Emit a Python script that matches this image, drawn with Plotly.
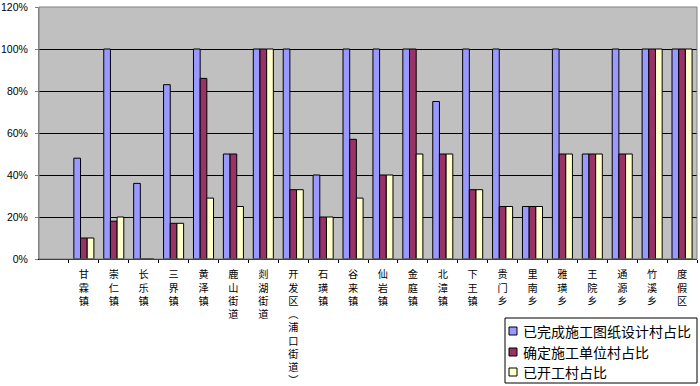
import plotly.graph_objects as go

categories = ["甘霖镇", "崇仁镇", "长乐镇", "三界镇", "黄泽镇", "鹿山街道", "剡湖街道",
              "开发区︵浦口街道︶", "石璜镇", "谷来镇", "仙岩镇", "金庭镇", "北漳镇", "下王镇",
              "贵门乡", "里南乡", "雅璜乡", "王院乡", "通源乡", "竹溪乡", "度假区"]

design_done = [48, 100, 36, 83, 100, 50, 100, 100, 40, 100, 100, 100, 75, 100,
               100, 25, 100, 50, 100, 100, 100]
builder_set = [10, 18, 0, 17, 86, 50, 100, 33, 20, 57, 40, 100, 50, 33,
               25, 25, 50, 50, 50, 100, 100]
started = [10, 20, 0, 17, 29, 25, 100, 33, 20, 29, 40, 50, 50, 33,
           25, 25, 50, 50, 50, 100, 100]

series_names = ["已完成施工图纸设计村占比", "确定施工单位村占比", "已开工村占比"]
colors = ["#9999FF", "#993366", "#FFFFCC"]
y_ticks = [0, 20, 40, 60, 80, 100, 120]

ticktext = ["<br>".join(list(c)) for c in categories]

fig = go.Figure()
for name, vals, col in zip(series_names, [design_done, builder_set, started], colors):
    fig.add_trace(go.Bar(
        x=categories, y=vals, name=name,
        marker=dict(color=col, line=dict(color="#000000", width=1)),
        showlegend=False,
    ))

font_cjk = "Noto Sans CJK SC, Noto Sans, sans-serif"

W, H = 700, 386
ml, mr, mt, mb = 39, 3, 7, 127
pw, ph = W - ml - mr, H - mt - mb


def px_x(px):
    return (px - ml) / pw


def px_y(py):
    return (H - mb - py) / ph


fig.update_layout(
    width=W, height=H,
    margin=dict(l=ml, r=mr, t=mt, b=mb, autoexpand=False),
    paper_bgcolor="#FFFFFF",
    plot_bgcolor="#C0C0C0",
    barmode="group",
    bargap=0.33,
    bargroupgap=0,
    font=dict(family=font_cjk, color="#000000"),
    showlegend=False,
)

fig.update_xaxes(
    type="category",
    range=[-1.5, len(categories) - 0.5],
    tickvals=categories, ticktext=ticktext,
    tickangle=0,
    tickfont=dict(size=10.2, family=font_cjk, color="#000000"),
    showgrid=False,
    showline=True, linecolor="#000000", linewidth=1,
    ticks="outside", ticklen=3, tickcolor="#000000", tickson="boundaries",
    ticklabelstandoff=6,
    automargin=False,
)

fig.update_yaxes(
    range=[0, 120],
    tickvals=y_ticks, ticktext=[f"{v}%" for v in y_ticks],
    tickfont=dict(size=10.5, family="Liberation Sans, Arial, sans-serif", color="#000000"),
    showgrid=True, gridcolor="#000000", gridwidth=1,
    showline=True, linecolor="#808080", linewidth=1,
    ticks="outside", ticklen=3, tickcolor="#808080",
    ticklabelstandoff=5,
    zeroline=False,
    automargin=False,
)

# plot area border in grey
fig.add_shape(type="rect", xref="paper", yref="paper", x0=0, x1=1, y0=0, y1=1,
              line=dict(color="#808080", width=1), fillcolor="rgba(0,0,0,0)", layer="above")

# legend box (drawn manually to match the reference's compact layout)
fig.add_shape(type="rect", xref="paper", yref="paper",
              x0=px_x(505), x1=px_x(697), y0=px_y(383), y1=px_y(318),
              line=dict(color="#000000", width=1), fillcolor="#FFFFFF")
row_y = [331, 352, 372]
for name, col, ry in zip(series_names, colors, row_y):
    fig.add_shape(type="rect", xref="paper", yref="paper",
                  x0=px_x(509), x1=px_x(517), y0=px_y(ry + 4), y1=px_y(ry - 4),
                  line=dict(color="#000000", width=1), fillcolor=col)
    fig.add_annotation(xref="paper", yref="paper", x=px_x(521), y=px_y(ry),
                       text=name, showarrow=False, xanchor="left", yanchor="middle",
                       font=dict(size=14, family=font_cjk, color="#000000"))

fig.write_html("out.html",
               config={"displayModeBar": False},
               post_script="document.body.style.margin='0';document.body.style.padding='0';")
